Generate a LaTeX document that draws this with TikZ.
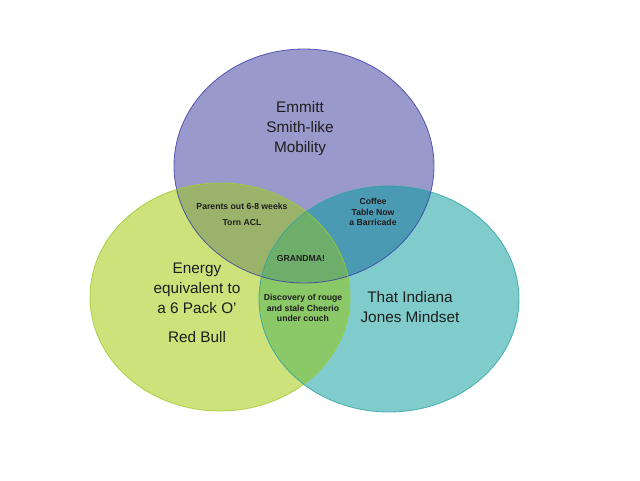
\documentclass[tikz,border=0pt]{standalone}
\usepackage{fontspec}
\setmainfont{Liberation Sans}
\definecolor{cP}{HTML}{9A99CC}
\definecolor{cL}{HTML}{CDE27A}
\definecolor{cR}{HTML}{80CCCC}
\definecolor{cPL}{HTML}{9BB26B}
\definecolor{cPR}{HTML}{4B9AB4}
\definecolor{cLR}{HTML}{8BC968}
\definecolor{cPLR}{HTML}{6DAE6A}
\definecolor{eP}{HTML}{3A3AA8}
\definecolor{eL}{HTML}{9CCB2E}
\definecolor{eR}{HTML}{2AA3A3}
\definecolor{txt}{HTML}{1E1E1E}
\begin{document}
\begin{tikzpicture}[x=0.75pt,y=-0.75pt,
  bigtext/.style={text=txt,align=center,inner sep=0pt,font=\fontsize{11.5}{15}\selectfont},
  smalltext/.style={text=txt,align=center,inner sep=0pt,font=\fontsize{6.5}{7.9}\selectfont\bfseries},
  edge/.style={line width=0.6pt}]
\useasboundingbox (0,0) rectangle (640,480);
\def\ET{(304,166) ellipse [x radius=130, y radius=117]}
\def\EL{(220,297) ellipse [x radius=130, y radius=114]}
\def\ER{(389,299) ellipse [x radius=130, y radius=113]}
\fill[cP] \ET;
\fill[cL] \EL;
\fill[cR] \ER;
\begin{scope}
  \clip \ET;
  \fill[cPL] \EL;
  \fill[cPR] \ER;
\end{scope}
\begin{scope}
  \clip \EL;
  \fill[cLR] \ER;
  \clip \ER;
  \fill[cPLR] \ET;
\end{scope}
\draw[edge,eP,draw opacity=0.8] \ET;
\draw[edge,eL,draw opacity=0.8] \EL;
\draw[edge,eR,draw opacity=0.8] \ER;
\node[bigtext] (top) at (300,129) {Emmitt\\Smith-like\\Mobility};
\node[bigtext] (left) at (197,303) {Energy\\equivalent to\\a 6 Pack O'\\[7pt]Red Bull};
\node[bigtext] (right) at (410,307) {That Indiana\\Jones Mindset};
\node[smalltext,font=\fontsize{6.5}{12}\selectfont\bfseries] (pl) at (242,214) {Parents out 6-8 weeks\\Torn ACL};
\node[smalltext] (pr) at (373,212) {Coffee\\Table Now\\a Barricade};
\node[smalltext] (plr) at (301,259) {GRANDMA!};
\node[smalltext] (lr) at (303,308) {Discovery of rouge\\and stale Cheerio\\under couch};
\end{tikzpicture}
\end{document}
